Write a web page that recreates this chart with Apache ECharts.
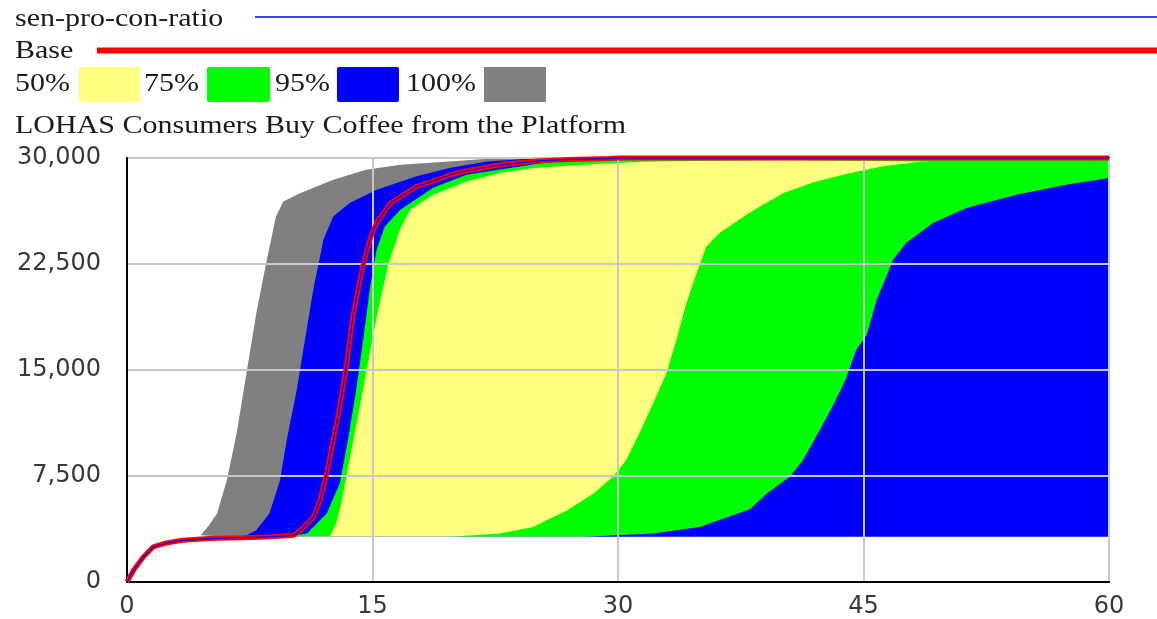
<!DOCTYPE html>
<html>
<head>
<meta charset="utf-8">
<title>LOHAS Consumers Buy Coffee from the Platform</title>
<script src="https://cdn.jsdelivr.net/npm/echarts@6/dist/echarts.min.js"></script>
<style>
  html, body { margin: 0; padding: 0; background: #fff; }
  #chart { width: 1157px; height: 619px; }
</style>
</head>
<body>
<div id="chart"></div>
<script>
// Time axis (months) and value axis ticks
const xTickLabels = ['0', '15', '30', '45', '60'];
const yTickLabels = ['0', '7,500', '15,000', '22,500', '30,000'];

// Start-up phase shared by every run before they diverge: [time, consumers]
const earlyRun = [[0, 0], [0.4, 830], [1, 1770], [1.6, 2480], [2.4, 2760], [3.4, 2950], [5, 3070], [7, 3130]];

// Base run
const baseRun = [[0, 0], [0.4, 830], [1, 1770], [1.6, 2480], [2.4, 2760], [3.4, 2950], [5, 3070], [7, 3130],
  [8.5, 3190], [9.5, 3250], [10.2, 3310], [10.6, 3660], [11.4, 4600], [11.8, 5790], [12.2, 7680], [12.6, 10040],
  [13, 12400], [13.4, 15230], [13.8, 18780], [14.4, 22320], [14.9, 24450], [15.25, 25400], [16.1, 26810],
  [17.7, 27990], [18.7, 28350], [19.7, 28800], [20.75, 29080], [22.8, 29520], [25, 29780], [27, 29900],
  [29.5, 29960], [30, 30000], [60, 30000]];

// sen-pro-con-ratio run
const senProConRatio = baseRun;

// Sensitivity envelopes: upper bounds of each confidence band
const upper100 = [[4.5, 3300], [5, 4000], [5.5, 4850], [6.1, 7200], [6.7, 10520], [7.3, 14770], [7.9, 19020],
  [8.5, 22560], [9.1, 25860], [9.55, 26930], [10.6, 27520], [12.6, 28460], [14.6, 29170], [16.7, 29520],
  [19.7, 29760], [22, 29950], [24, 30000], [60, 30000]];
const upper95 = [[7.9, 3660], [8.7, 4850], [9.35, 7200], [9.76, 10040], [10.37, 13580], [10.77, 16420],
  [11.38, 20670], [12, 24210], [12.6, 25860], [13.6, 26810], [15.25, 27750], [17.7, 28700], [19.7, 29290],
  [22, 29750], [25, 29980], [60, 30000]];
const upper75 = [[8.5, 3200], [10, 3250], [11, 3430], [12.2, 4850], [13, 6970], [13.5, 10040], [14, 13580],
  [14.43, 17130], [14.83, 20670], [15.25, 23500], [15.75, 25150], [16.7, 26340], [18.7, 27900], [20.75, 28820],
  [23.4, 29290], [26, 29750], [30, 29950], [60, 29980]];
const upper50 = [[8.5, 3200], [12.4, 3230], [12.8, 4200], [13.1, 5600], [13.4, 7440], [14, 11000], [14.64, 15000],
  [15.3, 19000], [15.97, 22500], [16.7, 25000], [17.3, 26340], [18.7, 27400], [20.75, 28340], [22.8, 28940],
  [24.8, 29290], [28.9, 29600], [32, 29750], [40, 29850], [48, 29750], [60, 29900]];

// Lower bounds of the bands
const lower50 = [[8.5, 3200], [19.8, 3200], [22.8, 3430], [24.8, 3900], [26.9, 5080], [28.5, 6260], [29.7, 7440],
  [30.5, 8620], [31.3, 10510], [32.15, 12640], [32.96, 14770], [33.57, 17130], [34.18, 19730], [34.8, 21850],
  [35.4, 23740], [36.2, 24690], [38.06, 26150], [40.1, 27520], [42.1, 28340], [44.2, 28940], [46.2, 29410],
  [48.2, 29700], [50, 29900], [60, 29950]];
const lower75 = [[8.5, 3200], [28, 3200], [32.15, 3430], [35, 3900], [38.06, 5150], [39.1, 6260], [40.5, 7440],
  [41.3, 8620], [42.1, 10270], [43.1, 12400], [43.9, 14290], [44.55, 16420], [45.2, 17500], [45.8, 19960],
  [46.4, 21610], [46.8, 22790], [47.6, 23980], [49.25, 25400], [51.3, 26460], [54.35, 27400], [57.4, 28110],
  [60, 28580]];
const lowerAll = [[8.5, 3200], [60, 3200]];

const COLOR_50 = '#ffff80';
const COLOR_75 = '#00ff00';
const COLOR_95 = '#0000ff';
const COLOR_100 = '#808080';

const withStart = pts => earlyRun.concat(pts);

// Each band is painted as a filled curve down to the axis, outermost band first;
// the lower bounds then repaint what lies beneath each band.
function fillSeries(name, pts, color) {
  return {
    name: name,
    type: 'line',
    data: withStart(pts),
    showSymbol: false,
    symbol: 'none',
    silent: true,
    z: 1,
    lineStyle: { width: 0, opacity: 0 },
    areaStyle: { color: color, opacity: 1 }
  };
}

const chart = echarts.init(document.getElementById('chart'), null, { renderer: 'canvas' });

const serifText = (text, x, y) => ({
  type: 'text', x: x, y: y, scaleX: 1.2, silent: true,
  style: { text: text, fill: '#1a1a1a', font: '25px "Liberation Serif"', verticalAlign: 'middle', align: 'left' }
});

chart.setOption({
  animation: false,
  backgroundColor: '#ffffff',
  grid: {
    left: 127, right: 48, top: 158, bottom: 37,
    show: true, borderColor: '#000000', borderWidth: 2, backgroundColor: 'transparent', z: 4
  },
  xAxis: {
    type: 'value', min: 0, max: 60, interval: 15, z: 4,
    axisLine: { show: true, lineStyle: { color: '#000', width: 2 } },
    axisTick: { show: false },
    splitLine: { show: true, lineStyle: { color: '#c8c8c8', width: 2 } },
    axisLabel: {
      margin: 13, color: '#383838', fontFamily: 'DejaVu Sans', fontSize: 24,
      formatter: v => xTickLabels[Math.round(v / 15)]
    }
  },
  yAxis: {
    type: 'value', min: 0, max: 30000, interval: 7500, z: 4,
    axisLine: { show: true, lineStyle: { color: '#000', width: 2 } },
    axisTick: { show: false },
    splitLine: { show: true, lineStyle: { color: '#c8c8c8', width: 2 } },
    axisLabel: {
      margin: 26, color: '#383838', fontFamily: 'DejaVu Sans', fontSize: 24,
      formatter: v => yTickLabels[Math.round(v / 7500)]
    }
  },
  series: [
    fillSeries('100%', upper100, COLOR_100),
    fillSeries('95%', upper95, COLOR_95),
    fillSeries('75%', upper75, COLOR_75),
    fillSeries('50%', upper50, COLOR_50),
    fillSeries('50% low', lower50, COLOR_75),
    fillSeries('75% low', lower75, COLOR_95),
    fillSeries('min', lowerAll, '#ffffff'),
    {
      name: 'Base', type: 'line', data: baseRun, showSymbol: false, symbol: 'none',
      clip: false, z: 6, silent: true,
      lineStyle: { color: '#ff0000', width: 5 }
    },
    {
      name: 'sen-pro-con-ratio', type: 'line', data: senProConRatio, showSymbol: false, symbol: 'none',
      clip: false, z: 7, silent: true,
      lineStyle: { color: '#0000ff', width: 1.2 }
    }
  ],
  graphic: [
    serifText('sen-pro-con-ratio', 15, 19),
    { type: 'line', silent: true, shape: { x1: 255, y1: 17, x2: 1157, y2: 17 }, style: { stroke: '#0000ff', lineWidth: 1.5 } },
    serifText('Base', 15, 51),
    { type: 'line', silent: true, shape: { x1: 97, y1: 50.5, x2: 1157, y2: 50.5 }, style: { stroke: '#ff0000', lineWidth: 6 } },
    serifText('50%', 15, 84),
    { type: 'rect', silent: true, shape: { x: 79, y: 67, width: 61, height: 35 }, style: { fill: COLOR_50 } },
    serifText('75%', 144, 84),
    { type: 'rect', silent: true, shape: { x: 207, y: 67, width: 63, height: 35, r: 2 }, style: { fill: COLOR_75 } },
    serifText('95%', 275, 84),
    { type: 'rect', silent: true, shape: { x: 337, y: 67, width: 62, height: 35, r: 2 }, style: { fill: COLOR_95 } },
    serifText('100%', 406, 84),
    { type: 'rect', silent: true, shape: { x: 484, y: 67, width: 62, height: 35 }, style: { fill: COLOR_100 } },
    serifText('LOHAS Consumers Buy Coffee from the Platform', 15, 126)
  ]
});
</script>
</body>
</html>
